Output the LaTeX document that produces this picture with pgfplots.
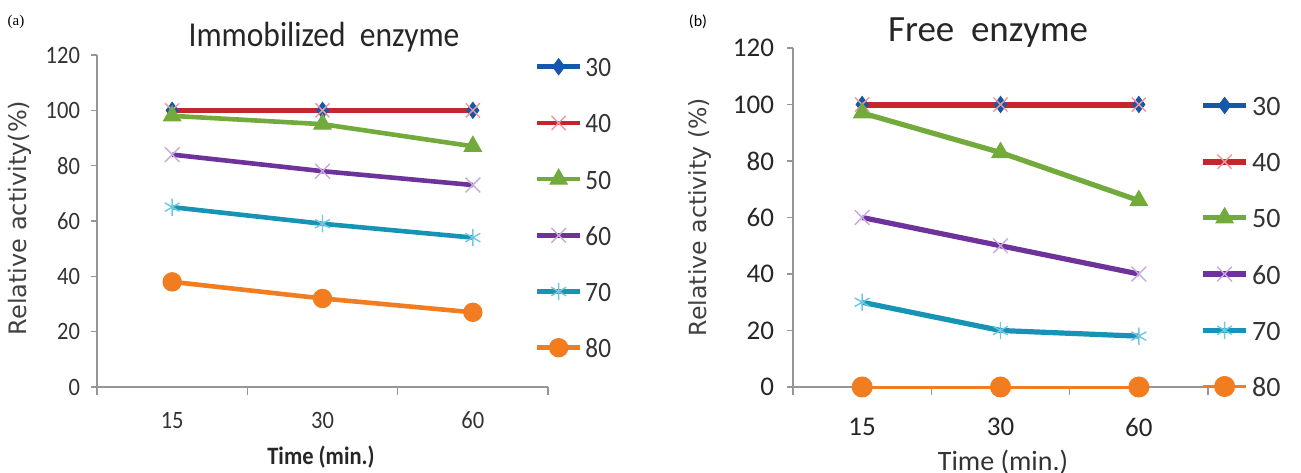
\documentclass[border=0pt]{standalone}
\usepackage{pgfplots}
\pgfplotsset{compat=1.18}
\usepackage{fontspec}
\setmainfont{Carlito}
\newfontfamily\narrowfont[FakeStretch=0.9]{Carlito}
\newfontfamily\dejavu{DejaVu Sans}
\newfontfamily\serifont{Liberation Serif}

\definecolor{axisgray}{RGB}{150,150,150}
\definecolor{c30}{RGB}{22,88,168}
\definecolor{c40}{RGB}{196,38,44}
\definecolor{c50}{RGB}{114,170,60}
\definecolor{c60}{RGB}{110,50,155}
\definecolor{c70}{RGB}{22,148,182}
\definecolor{c80}{RGB}{242,124,32}
\definecolor{p40}{RGB}{240,150,160}
\definecolor{p60}{RGB}{200,170,222}
\definecolor{p70}{RGB}{110,200,228}

\pgfplotstableread{
x s30 s40 s50 s60 s70 s80
0 100 100 98 84 65 38
1 100 100 95 78 59 32
2 100 100 87 73 54 27
}\immob

\pgfplotstableread{
x s30 s40 s50 s60 s70 s80
0 100 100 97 60 30 0
1 100 100 83 50 20 0
2 100 100 66 40 18 0
}\free

\pgfplotsset{
  enz/.style={
    scale only axis, axis lines*=left, clip=false,
    xmin=-0.5, xmax=2.5, ymin=0, ymax=120,
    xtick={0,1,2}, xticklabels={15,30,60},
    minor xtick={-0.5,0.5,1.5,2.5},
    ytick={0,20,...,120},
    tick align=outside,
    major tick length=3pt, minor tick length=4pt,
    major x tick style={draw=none},
    minor x tick style={draw=axisgray, line width=0.7pt},
    y tick style={draw=axisgray, line width=0.7pt},
    axis line style={draw=axisgray, line width=0.7pt},
    /pgf/number format/assume math mode=true,
    legend cell align=left,
    legend style={draw=none, fill=none, inner sep=0pt,
      row sep=15.1pt,
      nodes={inner sep=1.5pt, text height=10pt, text depth=0pt}},
    legend image code/.code={\draw[mark repeat=2,mark phase=2]
      plot coordinates {(0pt,0pt)(10.75pt,0pt)(21.5pt,0pt)};},
  },
  m30/.style={color=c30, line width=2.3pt, mark=diamond*, mark size=4pt,
    mark options={solid, line width=0.5pt, fill=c30, draw=c30}},
  m40/.style={color=c40, line width=2.3pt, mark=x, mark size=5pt,
    mark options={solid, line width=0.7pt, draw=p40}},
  m50/.style={color=c50, line width=2.3pt, mark=triangle*, mark size=5pt,
    mark options={solid, line width=0.5pt, fill=c50, draw=c50}},
  m60/.style={color=c60, line width=2.3pt, mark=x, mark size=5.2pt,
    mark options={solid, line width=0.7pt, draw=p60}},
  m70/.style={color=c70, line width=2.3pt, mark=asterisk, mark size=4.3pt,
    mark options={solid, line width=0.7pt, draw=p70}},
  m80/.style={color=c80, line width=2.3pt, mark=*, mark size=4.6pt,
    mark options={solid, line width=0.5pt, fill=c80, draw=c80}},
}

\begin{document}
\begin{tikzpicture}[x=1pt,y=1pt]
\clip (0,0) rectangle (650.5,236);
% ---------- panel (a)
\begin{axis}[enz,
  at={(48.5pt,42.5pt)}, anchor=south west,
  width=225.5pt, height=166pt,
  ticklabel style={font=\narrowfont\fontsize{12.5}{12.5}\selectfont, text=black!80},
  yticklabel style={xshift=-2pt},
  xticklabel style={yshift=-6pt},
  legend style={at={(axis description cs:0.97,1.005)}, anchor=north west,
    font=\narrowfont\fontsize{14}{14}\selectfont, text=black!80},
]
\addplot[m30] table[x=x,y=s30]{\immob};
\addplot[m40] table[x=x,y=s40]{\immob};
\addplot[m50] table[x=x,y=s50]{\immob};
\addplot[m60] table[x=x,y=s60]{\immob};
\addplot[m70] table[x=x,y=s70]{\immob};
\addplot[m80] table[x=x,y=s80]{\immob};
\legend{30,40,50,60,70,80}
\end{axis}
\node[font=\narrowfont\fontsize{17.5}{17.5}\selectfont, text=black!85] at (162,217.5) {Immobilized\ \ enzyme};
\node[font=\serifont\fontsize{7.5}{7.5}\selectfont] at (8,225) {(a)};
\node[font=\dejavu\fontsize{12}{12}\selectfont, text=black!75, rotate=90] at (10,127) {Relative activity(\%)};
\node[font=\narrowfont\bfseries\fontsize{12.5}{12.5}\selectfont, text=black!85] at (160.5,7.5) {Time (min.)};
% ---------- panel (b)
\begin{axis}[enz,
  at={(396.5pt,42.5pt)}, anchor=south west,
  width=207.5pt, height=169.5pt,
  ticklabel style={font=\fontsize{13.5}{13.5}\selectfont, text=black!85},
  yticklabel style={xshift=-3pt},
  xticklabel style={yshift=-9pt},
  legend style={at={(axis description cs:0.98,0.87)}, anchor=north west,
    font=\fontsize{14}{14}\selectfont, text=black!80},
]
\addplot[m30, line width=2.6pt] table[x=x,y=s30]{\free};
\addplot[m40, line width=3pt] table[x=x,y=s40]{\free};
\addplot[m50, line width=2.6pt] table[x=x,y=s50]{\free};
\addplot[m60, line width=2.6pt] table[x=x,y=s60]{\free};
\addplot[m70, line width=2.6pt] table[x=x,y=s70]{\free};
\addplot[m80, line width=1.5pt, mark size=5pt] table[x=x,y=s80]{\free};
\legend{30,40,50,60,70,80}
\end{axis}
\node[font=\fontsize{18.5}{18.5}\selectfont, text=black!85] at (494,219.5) {Free\ \ enzyme};
\node[font=\fontsize{8}{8}\selectfont] at (349,225) {(b)};
\node[font=\dejavu\fontsize{11.8}{11.8}\selectfont, text=black!75, rotate=90] at (350,127.5) {Relative activity (\%)};
\node[font=\fontsize{14}{14}\selectfont, text=black!80] at (501.5,5) {Time (min.)};
\end{tikzpicture}
\end{document}
